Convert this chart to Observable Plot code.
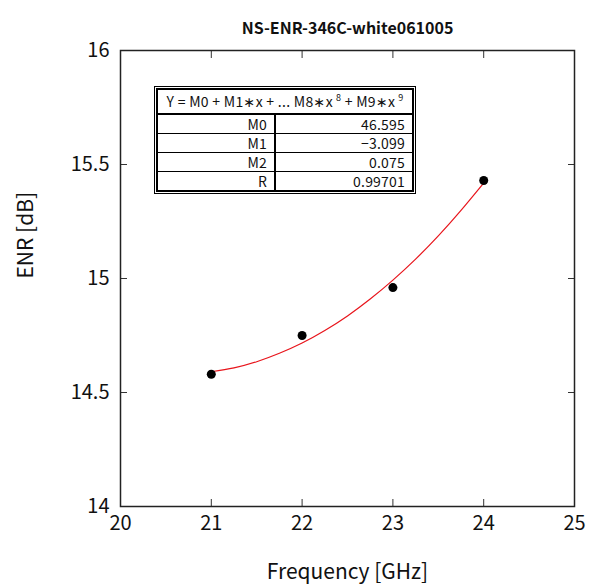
<!DOCTYPE html>
<html>
<head>
<meta charset="utf-8">
<script src="https://cdn.jsdelivr.net/npm/d3@7"></script>
<script src="https://cdn.jsdelivr.net/npm/@observablehq/plot@0.6"></script>
<style>
  html, body { margin: 0; padding: 0; background: #fff; }
  #wrap { position: relative; width: 589px; height: 585px; font-family: "Noto Sans CJK JP", "DejaVu Sans", sans-serif; }
  #fit {
    position: absolute; left: 156px; top: 88px; width: 258px; box-sizing: border-box;
    table-layout: fixed;
    border-collapse: separate; border-spacing: 0;
    border: 2px solid #000; outline: 1px solid #000; outline-offset: 1px; background: #fff;
    font-family: "Noto Sans CJK JP", "DejaVu Sans", sans-serif; font-size: 14px; letter-spacing: 0.2px; color: #111;
  }
  #fit td { border: 0; border-bottom: 1px solid #000; padding: 0 7px 0 0; height: 18px; line-height: 18px; text-align: right; white-space: nowrap; }
  #fit tr:last-child td { border-bottom: 0; }
  #fit td.h { text-align: center; height: 23px; line-height: 23px; border-bottom: 2px solid #000; padding: 0; letter-spacing: 0.3px; }
  #fit td.k { border-right: 2px solid #000; }
  #fit sup { font-size: 9px; vertical-align: 6px; line-height: 0; margin-left: 3px; }
</style>
</head>
<body>
<div id="wrap"></div>
<script>
const title = "NS-ENR-346C-white061005";
const xLabel = "Frequency [GHz]";
const yLabel = "ENR [dB]";

const freq = [21, 22, 23, 24];
const enr = [14.58, 14.75, 14.96, 15.43];

// fitted curve
const fitFreq = [21, 21.25, 21.5, 21.75, 22, 22.25, 22.5, 22.75, 23, 23.25, 23.5, 23.75, 24];
const fitEnr = [14.591, 14.608, 14.635, 14.672, 14.717, 14.772, 14.836, 14.910, 14.993, 15.085, 15.187, 15.299, 15.419];

const xTicks = [20, 21, 22, 23, 24, 25];
const yTicks = [14, 14.5, 15, 15.5, 16];

const tableKeys = ["M0", "M1", "M2", "R"];
const tableVals = ["46.595", "\u22123.099", "0.075", "0.99701"];

const points = freq.map((f, i) => ({f, v: enr[i]}));
const fit = fitFreq.map((f, i) => ({f, v: fitEnr[i]}));

const font = "'Noto Sans CJK JP', 'DejaVu Sans', sans-serif";

const chart = Plot.plot({
  width: 589,
  height: 585,
  marginLeft: 120,
  marginRight: 15,
  marginTop: 50,
  marginBottom: 79,
  style: {fontFamily: font, background: "#fff", color: "#111", overflow: "visible"},
  x: {domain: [20, 25]},
  y: {domain: [14, 16]},
  marks: [
    Plot.axisX(xTicks, {anchor: "bottom", tickSize: -7, tickPadding: 16, fontSize: 20, label: null, tickFormat: d => String(d), stroke: "#333"}),
    Plot.axisX(xTicks, {anchor: "top", tickSize: -7, label: null, tickFormat: () => "", stroke: "#333"}),
    Plot.axisY(yTicks, {anchor: "left", tickSize: -7, tickPadding: 18, fontSize: 20, label: null, tickFormat: d => String(d), stroke: "#333"}),
    Plot.axisY(yTicks, {anchor: "right", tickSize: -7, label: null, tickFormat: () => "", stroke: "#333"}),
    Plot.frame({stroke: "#222", strokeWidth: 1.5}),
    Plot.line(fit, {x: "f", y: "v", stroke: "#e8141b", strokeWidth: 1.2, curve: "natural"}),
    Plot.dot(points, {x: "f", y: "v", r: 4.5, fill: "#000", stroke: null}),
    Plot.text([title], {frameAnchor: "top", dy: -28, fontSize: 16, fontWeight: "bold", fill: "#111"}),
    Plot.text([xLabel], {frameAnchor: "bottom", dy: 72, fontSize: 21, fill: "#111"}),
    Plot.text([yLabel], {frameAnchor: "left", dx: -94, rotate: -90, fontSize: 21, fill: "#111"})
  ]
});

const wrap = document.getElementById("wrap");
wrap.appendChild(chart);

const table = document.createElement("table");
table.id = "fit";
let html = `<colgroup><col style="width:118px"><col></colgroup>`;
html += `<tr><td class="h" colspan="2">Y = M0 + M1\u2217x + ... M8\u2217x<sup>8</sup> + M9\u2217x<sup>9</sup></td></tr>`;
tableKeys.forEach((k, i) => {
  html += `<tr><td class="k">${k}</td><td>${tableVals[i]}</td></tr>`;
});
table.innerHTML = html;
wrap.appendChild(table);
</script>
</body>
</html>
